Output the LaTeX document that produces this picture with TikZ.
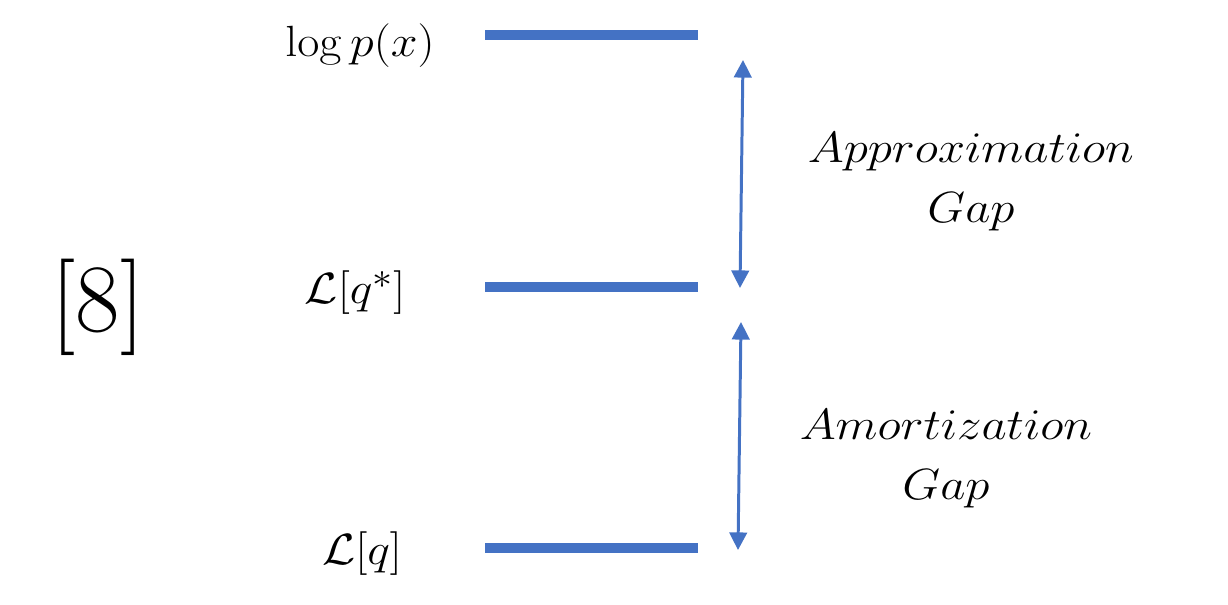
\documentclass[tikz,border=0pt]{standalone}
\usepackage{amsmath,amssymb}
\usepackage{tikz}
\usetikzlibrary{arrows.meta,positioning,calc}
\definecolor{barblue}{HTML}{4472C4}

\begin{document}
\begin{tikzpicture}[
  x=0.02cm, y=-0.02cm,
  bar/.style={draw=barblue, line width=6.2pt},
  arr/.style={{Triangle[width=10pt,length=10pt]}-{Triangle[width=10pt,length=10pt]},
              draw=barblue, line width=1.7pt},
  lvl/.style={font=\fontsize{31}{34}\selectfont, xscale=1.1, anchor=center},
  gap/.style={font=\fontsize{29}{34}\selectfont, xscale=1.12, align=center, anchor=center}
]
  \useasboundingbox (0,0) rectangle (1228,605);

  % levels
  \coordinate (top-l) at (485,35);  \coordinate (top-r) at (698,35);
  \coordinate (mid-l) at (485,287); \coordinate (mid-r) at (698,287);
  \coordinate (low-l) at (485,548); \coordinate (low-r) at (698,548);
  \draw[bar] (top-l) -- (top-r);
  \draw[bar] (mid-l) -- (mid-r);
  \draw[bar] (low-l) -- (low-r);

  \node[lvl] (logp) at (360,46) {$\log p(x)$};
  \node[lvl] (lqs)  at (355,293) {$\mathcal{L}[q^*]$};
  \node[lvl] (lq)   at (362,554) {$\mathcal{L}[q]$};

  \node[font=\fontsize{55}{55}\selectfont] (ref) at (98,307) {[8]};

  % gaps
  \coordinate (ag-t) at (743,60);  \coordinate (ag-b) at (740,288);
  \coordinate (mg-t) at (741,322); \coordinate (mg-b) at (738,550);
  \draw[arr] (ag-t) -- (ag-b);
  \draw[arr] (mg-t) -- (mg-b);

  \node[gap] (approx) at (971,182) {$Approximation$\\$Gap$};
  \node[gap] (amort)  at (946,459) {$Amortization$\\$Gap$};
\end{tikzpicture}
\end{document}
